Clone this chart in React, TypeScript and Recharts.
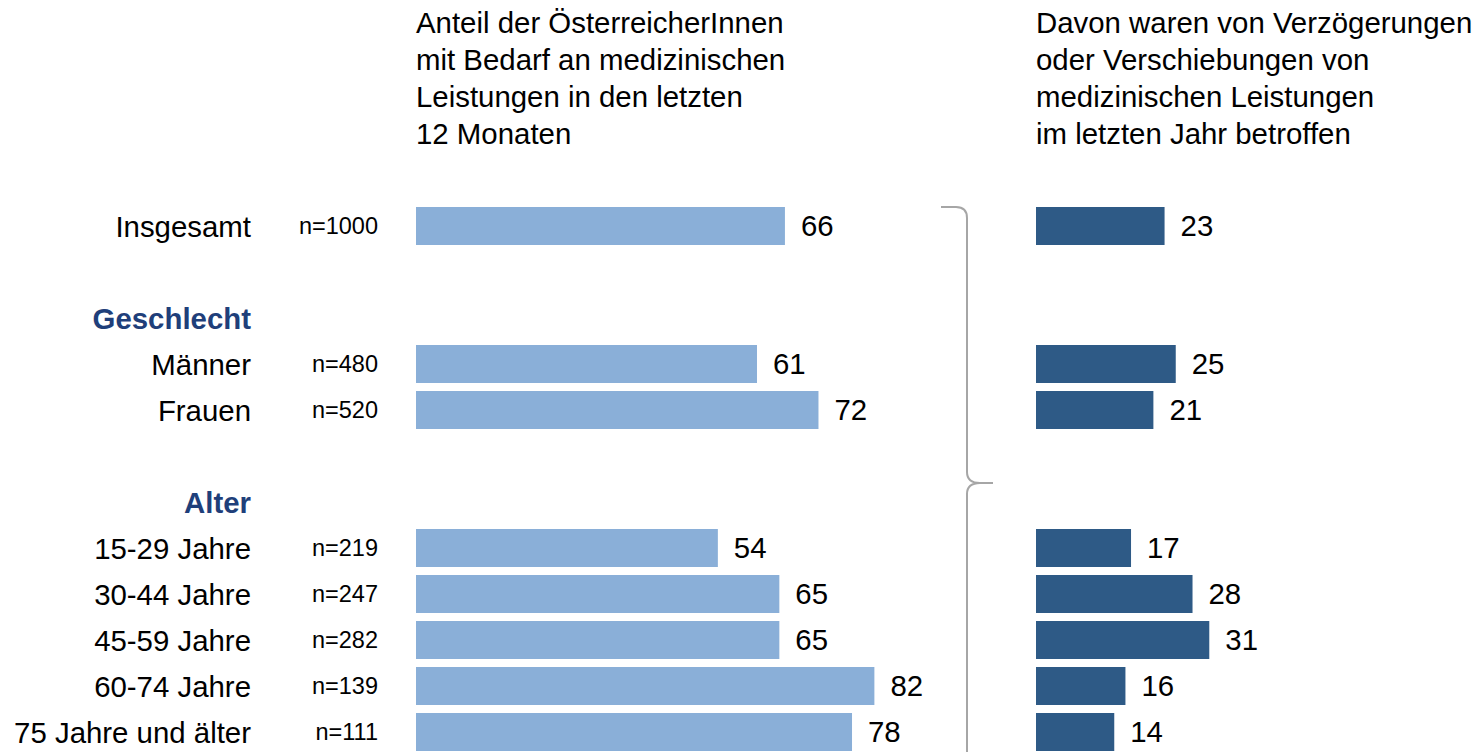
import React from 'react';
import { BarChart, Bar, XAxis, YAxis, LabelList } from 'recharts';

// rows top to bottom; '' = spacer row, headers have no bars
const rowIds = ['r0', 'r1', 'r2', 'r3', 'r4', 'r5', 'r6', 'r7', 'r8', 'r9', 'r10', 'r11'];
const rowLabels = ['Insgesamt', '', 'Geschlecht', 'Männer', 'Frauen', '', 'Alter', '15-29 Jahre', '30-44 Jahre', '45-59 Jahre', '60-74 Jahre', '75 Jahre und älter'];
const headerRows = [false, false, true, false, false, false, true, false, false, false, false, false];
const sampleSizes = ['n=1000', '', '', 'n=480', 'n=520', '', '', 'n=219', 'n=247', 'n=282', 'n=139', 'n=111'];
const needShare = [66, null, null, 61, 72, null, null, 54, 65, 65, 82, 78];
const delayShare = [23, null, null, 25, 21, null, null, 17, 28, 31, 16, 14];

const leftTitle = ['Anteil der ÖsterreicherInnen', 'mit Bedarf an medizinischen', 'Leistungen in den letzten', '12 Monaten'];
const rightTitle = ['Davon waren von Verzögerungen', 'oder Verschiebungen von', 'medizinischen Leistungen', 'im letzten Jahr betroffen'];

const data = rowIds.map((id, i) => ({
  id,
  need: needShare[i],
  delay: delayShare[i],
}));

const FONT = '"Liberation Sans", Arial, sans-serif';
const LIGHT = '#8AAFD8';
const DARK = '#2E5A86';
const HEADER_BLUE = '#1F3F7A';
const BIG = 29.4;

const RowTick = (props: any) => {
  const { x, y, payload } = props;
  const i = payload.index;
  const header = headerRows[i];
  return (
    <g>
      <text
        x={x - 157}
        y={y}
        dy="0.36em"
        textAnchor="end"
        fontFamily={FONT}
        fontSize={BIG}
        fontWeight={header ? 'bold' : 'normal'}
        fill={header ? HEADER_BLUE : '#000'}
      >
        {rowLabels[i]}
      </text>
      <text x={x - 30} y={y} dy="0.36em" textAnchor="end" fontFamily={FONT} fontSize={23.5} fill="#000">
        {sampleSizes[i]}
      </text>
    </g>
  );
};

const Title = ({ lines, left }: { lines: string[]; left: number }) => (
  <div style={{ position: 'absolute', left, top: 4, fontSize: BIG, lineHeight: '37px', fontFamily: FONT, color: '#000', whiteSpace: 'nowrap' }}>
    {lines.map((l) => (
      <div key={l}>{l}</div>
    ))}
  </div>
);

export default function App() {
  return (
    <div style={{ position: 'absolute', left: 0, top: 0, width: 1477, height: 752, overflow: 'hidden', background: '#fff', fontFamily: FONT }}>
      <Title lines={leftTitle} left={416} />
      <Title lines={rightTitle} left={1036} />

      <div style={{ position: 'absolute', left: 0, top: 0 }}>
        <BarChart width={1000} height={757} data={data} layout="vertical" margin={{ top: 203, right: 25, bottom: 2, left: 0 }}>
          <XAxis type="number" domain={[0, 100]} hide />
          <YAxis type="category" dataKey="id" width={416} axisLine={false} tickLine={false} tick={<RowTick />} interval={0} />
          <Bar dataKey="need" fill={LIGHT} barSize={38} isAnimationActive={false}>
            <LabelList dataKey="need" position="right" offset={16} fill="#000" fontSize={BIG} fontFamily={FONT} />
          </Bar>
        </BarChart>
      </div>

      <div style={{ position: 'absolute', left: 1036, top: 0 }}>
        <BarChart width={441} height={757} data={data} layout="vertical" margin={{ top: 203, right: 49.7, bottom: 2, left: 0 }}>
          <XAxis type="number" domain={[0, 70]} hide />
          <YAxis type="category" dataKey="id" hide />
          <Bar dataKey="delay" fill={DARK} barSize={38} isAnimationActive={false}>
            <LabelList dataKey="delay" position="right" offset={16} fill="#000" fontSize={BIG} fontFamily={FONT} />
          </Bar>
        </BarChart>
      </div>

      <svg width={1477} height={752} style={{ position: 'absolute', left: 0, top: 0, pointerEvents: 'none' }}>
        <path
          d="M941,207 L956,207 Q967,207 967,218 L967,472 Q967,483 980,483 L993,483 L980,483 Q967,483 967,494 L967,760"
          fill="none"
          stroke="#A6A6A6"
          strokeWidth={2}
        />
      </svg>
    </div>
  );
}
